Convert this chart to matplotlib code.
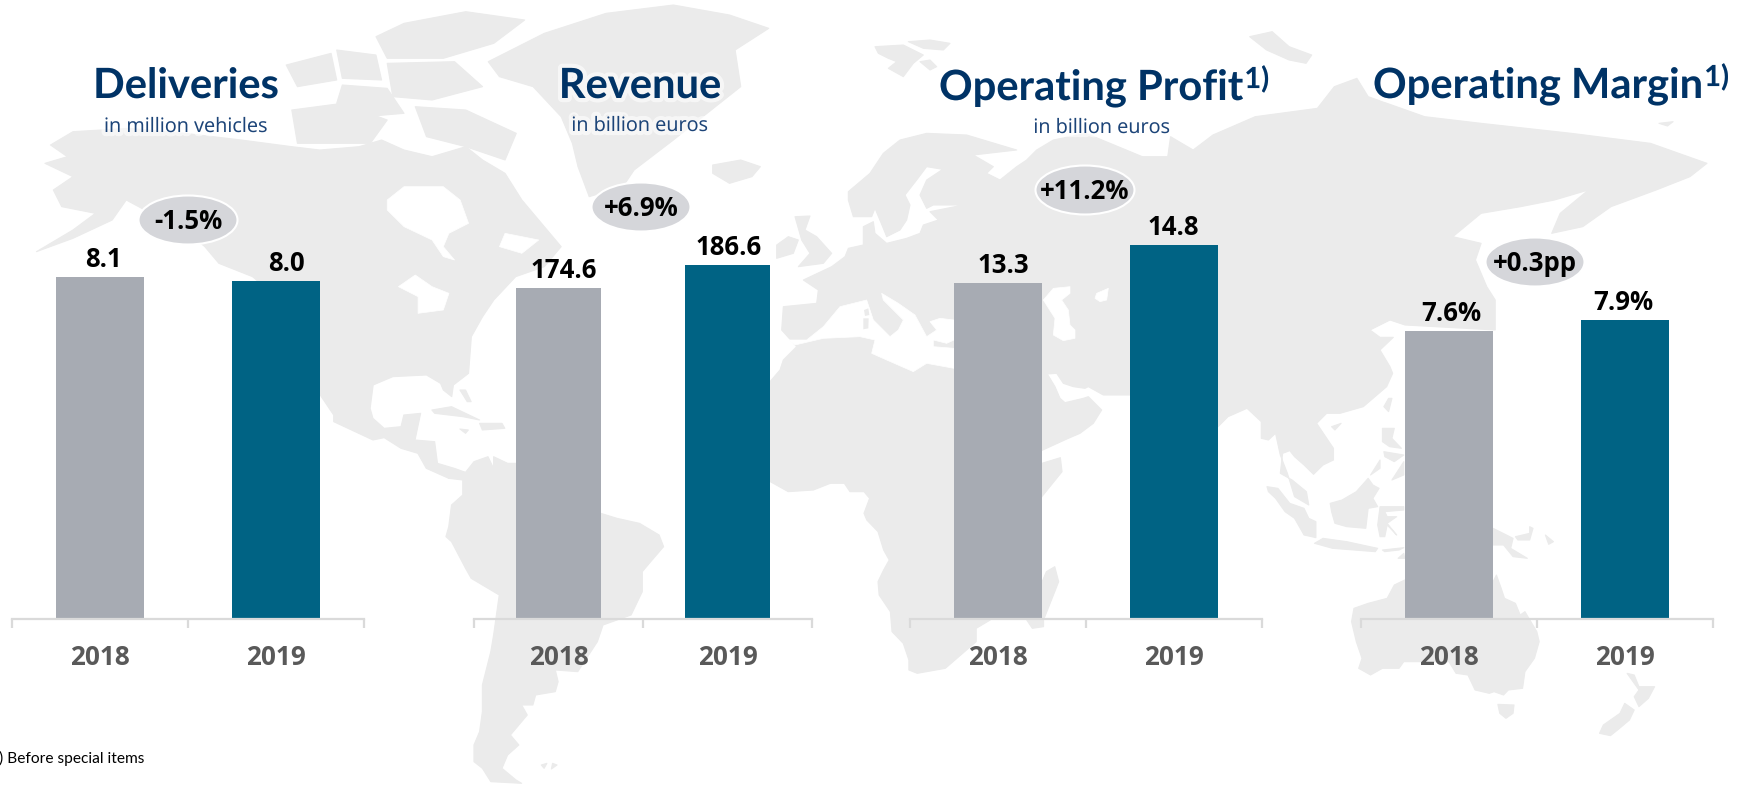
import matplotlib
matplotlib.use('Agg')
import matplotlib.pyplot as plt
import matplotlib.patheffects as pe
from matplotlib.patches import Ellipse, Polygon

##Chart data
years = ['2018', '2019']
titles = ['Deliveries', 'Revenue', 'Operating Profit', 'Operating Margin']
subtitles = ['in million vehicles', 'in billion euros', 'in billion euros', '']
title_notes = ['', '', '1)', '1)']
deliveries = [8.1, 8.0]
revenue = [174.6, 186.6]
operating_profit = [13.3, 14.8]
operating_margin = [7.6, 7.9]
value_labels = [['8.1', '8.0'], ['174.6', '186.6'], ['13.3', '14.8'], ['7.6%', '7.9%']]
changes = ['-1.5%', '+6.9%', '+11.2%', '+0.3pp']
footnote = '1) Before special items'

##Layout, in pixels of the 1745x785 figure
W, H = 1745, 785
BASE = 619
AX_H = 519
panel_x = [(12, 364), (474, 812), (910, 1262), (1361, 1713)]
px_per_unit = [42.2, 1.896, 25.26, 37.9]
label_dx = [(3, 10), (5, 1), (5, -1), (2, -2)]
balloons = [(188, 220), (641, 207), (1085, 190), (1535, 262)]
title_x = [186, 640, 939, 1373]
title_y = [98, 98, 100, 98]
title_ha = ['center', 'center', 'left', 'left']
sub_x = [186, 640, 1102, 0]
sub_y = [132, 131, 133, 0]

LAND = '#ebebeb'
NAVY = '#003366'


##Zoom crops used to trace the map outline, back to figure pixels
def z4(pts):
    return [(x/1.782, y/3) for x, y in pts]
def z5(pts):
    return [(300 + x/1.782, 385 + y/3) for x, y in pts]
def z6(pts):
    return [(860 + x/1.771, y/3) for x, y in pts]
def z7(pts):
    return [(1000 + x/2.105, 385 + y/3) for x, y in pts]
def z8(pts):
    return [(760 + x/3, 30 + y/3) for x, y in pts]
def z9(pts):
    return [(760 + x/3, 130 + y/3) for x, y in pts]
def z10(pts):
    return [(1040 + x/3, 250 + y/3) for x, y in pts]


north_america = z4([(90,435),(130,395),(230,385),(330,400),(430,420),(520,440),(570,450),(640,440),(680,420),(720,450),(770,470),(830,440),(860,480),(900,520),(930,600),(950,640),(985,710),(1000,740),(970,800),(919,830),(880,900),(860,950),(840,1010),(835,1120),(808,1155),(805,1190),(790,1170),(785,1150),(760,1125),(700,1130),(665,1155)]) \
    + z5([(125,70),(130,100),(150,130),(180,125),(185,90),(215,85),(205,165),(240,170),(245,235),(275,250),(295,262),(265,280),(225,250),(210,205),(180,190),(150,158),(130,165),(60,110),(60,90),(36,30)]) \
    + z4([(570,1000),(450,830),(390,790),(365,740),(330,690),(280,650),(225,600),(200,660),(130,715),(65,755),(130,690),(170,640),(110,620),(95,570),(130,530),(80,490),(120,470)])

south_america = z5([(265,280),(295,262),(310,230),(335,215),(345,250),(345,215),(370,235),(385,235),(536,385),(565,400),(605,415),(640,450),(648,485),(625,530),(610,560),(610,620),(590,690),(540,720),(530,770),(495,860),(455,855),(460,890),(455,920),(420,930),(415,960),(395,960),(405,990),(385,1030),(375,1050),(390,1080),(370,1110),(360,1150),(385,1185),(395,1195),(340,1190),(325,1150),(310,1130),(310,1080),(320,1040),(325,980),(325,930),(325,900),(340,800),(345,750),(355,630),(305,580),(295,550),(270,470),(260,455),(265,425),(270,360),(290,330),(290,285)])

eurasia_africa = z9([(65,600),(70,530),(170,520),(175,480),(130,450),(215,410),(255,380),(265,355),(310,345),(310,290),(340,275),(345,310),(380,340),(440,325),(480,310),(490,285),(535,270),(510,245),(610,225),(520,225),(500,235),(480,195),(500,150),(548,118),(500,110),(470,150),(435,195),(450,225),(440,270),(420,300),(380,320),(370,295),(345,235),(335,260),(280,260),(265,210),(265,185),(330,130),(370,70),(420,30),(500,10),(620,15),(770,60),(640,75),(700,110),(680,130),(720,150),(770,110),(800,90),(830,60),(880,30)]) \
    + z6([(400,400),(500,470),(545,470),(550,410),(590,450),(625,405),(700,350),(810,325),(840,260),(880,235),(900,290),(1000,350),(1100,370),(1260,400),(1400,430),(1500,490),(1470,530),(1410,570),(1330,620),(1280,680),(1225,700),(1240,640),(1290,570),(1230,600),(1170,620),(1100,640),(1050,710),(1100,730),(1090,780),(1110,860),(1125,900),(1125,990)]) \
    + z10([(1095,225),(1050,210),(990,240),(1020,262),(1060,262),(1020,300),(1050,350),(1058,370),(1040,410),(970,470),(900,490),(860,490),(830,520)]) \
    + z7([(702,190),(702,225),(680,240),(660,268),(640,240),(620,215),(610,197),(595,205),(590,265),(615,285),(645,320),(650,360),(620,335),(605,265),(590,210),(580,145),(565,165),(550,160),(550,110),(520,70),(480,95),(459,125),(274,30)]) \
    + z10([(190,435),(145,410),(135,415),(100,410),(70,400),(50,370),(22,372),(45,410),(60,445),(75,458),(130,445),(145,440),(185,480),(160,520),(120,550),(85,565)]) \
    + z7([(90,195),(60,215)]) \
    + z5([(1322,235),(1355,218),(1358,260),(1322,335),(1230,705),(1205,730),(1205,770),(1150,850),(1100,865),(1085,855),(1085,825),(1075,775),(1055,740),(1052,680),(1032,630),(1030,590),(1040,555),(1050,525),(1040,495),(1030,440),(1010,405),(1005,385),(1015,340),(1005,320),(980,320),(970,295),(945,295),(915,315),(870,320),(838,290)]) \
    + z9([(30,755),(60,720),(70,690),(110,650)])

australia = z7([(745,670),(775,655),(815,640),(830,600),(852,585),(1038,590),(1045,570),(1055,610),(1062,640),(1085,655),(1095,690),(1105,680),(1130,740),(1135,770),(1125,820),(1105,860),(1100,910),(1070,915),(1060,930),(1040,920),(1030,925),(1000,915),(985,870),(960,865),(945,830),(850,830),(840,850),(805,850),(780,870),(755,850),(762,820),(750,770),(740,710)])

islands = [
    ##Greenland, Iceland, Britain, Ireland
    z4([(870,185),(970,100),(1080,40),(1200,15),(1300,45),(1370,85),(1310,150),(1320,260),(1260,340),(1200,420),(1130,510),(1110,560),(1050,590),(1030,500),(1020,430),(1000,350),(950,260),(890,230)]),
    z4([(1270,495),(1320,480),(1355,500),(1340,530),(1300,550),(1270,520)]),
    z9([(105,260),(150,258),(135,300),(170,320),(215,370),(190,400),(115,410),(150,370),(125,330)]),
    z9([(50,345),(85,320),(115,330),(100,370),(50,385)]),
    ##Canadian arctic
    z4([(670,110),(720,70),(830,35),(935,60),(880,130),(790,175),(690,175)]),
    z4([(510,195),(590,160),(600,240),(530,260)]),
    z4([(600,150),(670,165),(680,240),(610,235)]),
    z4([(690,190),(810,185),(860,260),(770,300),(700,290)]),
    z4([(610,255),(690,265),(720,340),(650,350),(600,310)]),
    z4([(520,330),(610,310),(690,360),(660,430),(530,430)]),
    z4([(740,320),(830,330),(920,400),(900,480),(830,440),(760,410)]),
    ##Svalbard, Novaya Zemlya
    z8([(345,50),(430,45),(490,75),(460,100),(430,140),(385,115),(410,95),(385,85),(355,70)]),
    z8([(445,35),(510,30),(570,40),(550,60),(490,55)]),
    z8([(480,95),(510,90),(530,110),(510,120)]),
    z6([(690,110),(730,95),(760,140),(800,165),(790,190),(760,180),(720,150)]),
    z6([(1415,370),(1440,365),(1430,378)]),
    ##Caribbean and Falklands
    z5([(235,75),(270,65),(320,105),(290,95),(240,85)]),
    z5([(320,115),(360,115),(365,130),(325,135)]),
    z5([(285,132),(300,135),(295,145)]),
    z5([(285,15),(295,15),(305,50),(298,50)]),
    z5([(430,1140),(440,1135),(435,1150)]),
    z5([(450,1135),(458,1140),(448,1152)]),
    ##Madagascar
    z5([(1345,545),(1352,590),(1345,620),(1325,705),(1325,725),(1305,730),(1295,705),(1320,600),(1330,560)]),
    ##Southeast Asia
    z7([(562,305),(585,310),(610,355),(640,370),(650,400),(665,410),(665,458),(640,450),(620,400),(600,380),(580,340),(565,320)]),
    z7([(695,355),(720,345),(750,320),(775,280),(785,300),(798,310),(785,340),(795,365),(775,370),(770,430),(730,425),(705,415),(698,380)]),
    z7([(662,475),(680,460),(730,470),(795,490),(790,500),(700,490)]),
    z7([(800,365),(850,365),(850,375),(810,380),(815,395),(835,395),(815,415),(835,450),(815,420),(810,455),(800,455),(795,420)]),
    z7([(805,130),(830,130),(825,160),(845,190),(820,185),(805,170)]),
    z7([(808,200),(850,210),(830,230),(810,215)]),
    z7([(800,225),(780,270),(800,250)]),
    z7([(850,230),(825,285),(850,270)]),
    z7([(805,495),(850,488),(840,495),(810,500)]),
    z7([(838,520),(850,505),(852,520)]),
    z7([(698,125),(718,115),(705,135)]),
    z7([(818,40),(825,40),(818,80),(808,65)]),
    z7([(1038,430),(1080,460),(1075,490),(1110,520),(1080,515),(1060,480),(1038,480)]),
    z7([(1085,455),(1115,445),(1115,425),(1122,430),(1115,465),(1090,465)]),
    z7([(1148,450),(1165,470),(1155,478)]),
    ##Tasmania, New Zealand
    z7([(1048,958),(1082,960),(1080,985),(1065,1000),(1052,985)]),
    z7([(1320,865),(1335,870),(1345,905),(1378,905),(1365,940),(1345,965),(1335,935),(1345,915)]),
    z7([(1315,955),(1335,975),(1325,1005),(1300,1035),(1285,1052),(1262,1045),(1270,1020),(1305,985)]),
]

waters = [
    ##Hudson Bay and Great Lakes
    z4([(690,600),(720,560),(790,560),(820,600),(835,670),(800,700),(790,740),(810,780),(790,770),(770,720),(720,680),(690,630)]),
    z4([(710,860),(740,825),(770,860),(800,880),(790,930),(745,940),(745,890)]),
    z4([(900,700),(960,720),(930,760),(890,740)]),
    ##Mediterranean, Caspian, Aral
    z9([(85,630),(105,645),(190,625),(300,620),(345,630),(335,670),(380,690),(460,725),(500,700),(582,715),(582,655),(520,650),(520,630),(560,640),(582,630),(582,570),(540,565),(510,575),(530,600),(500,620),(465,555),(415,520),(365,490),(370,510),(430,570),(415,600),(390,620),(340,570),(320,510),(240,530),(190,590),(140,630)]),
    z10([(10,150),(40,115),(90,110),(90,130),(65,150),(85,180),(90,225),(105,240),(105,265),(70,272),(40,255),(45,205)]),
    z10([(170,130),(205,115),(200,150),(180,155),(165,145)]),
]
med_islands = [
    z9([(312,540),(325,535),(328,555),(315,558)]),
    z9([(310,565),(326,565),(325,595),(310,598)]),
]

fig = plt.figure(figsize=(W/100, H/100), dpi=100)
plt.rcParams['font.family'] = ['Open Sans', 'DejaVu Sans']

##Background map
ax_map = fig.add_axes([0, 0, 1, 1], zorder=0)
ax_map.set_xlim(0, W)
ax_map.set_ylim(H, 0)
ax_map.axis('off')
for shape in [north_america, south_america, eurasia_africa, australia] + islands:
    ax_map.add_patch(Polygon(shape, closed=True, fc=LAND, ec=LAND, lw=0.8, joinstyle='round'))
for shape in waters:
    ax_map.add_patch(Polygon(shape, closed=True, fc='white', ec='white', lw=0.5, joinstyle='round'))
for shape in med_islands:
    ax_map.add_patch(Polygon(shape, closed=True, fc=LAND, ec='none'))

##The four bar panels
series = [deliveries, revenue, operating_profit, operating_margin]
for i, values in enumerate(series):
    x0, x1 = panel_x[i]
    ax = fig.add_axes([x0/W, 1 - BASE/H, (x1 - x0)/W, AX_H/H], zorder=1)
    ax.patch.set_alpha(0)
    ax.bar([0, 1], values, width=0.5, color=['#a7abb3', '#006384'])
    ax.set_xlim(-0.5, 1.5)
    ax.set_ylim(0, AX_H/px_per_unit[i])
    for s in ['top', 'left', 'right']:
        ax.spines[s].set_visible(False)
    ax.spines['bottom'].set_color('#dadada')
    ax.spines['bottom'].set_linewidth(1.6)
    ax.set_yticks([])
    ax.set_xticks([-0.5, 0.5, 1.5], labels=['', '', ''])
    ax.tick_params(axis='x', which='major', color='#dadada', width=1.6, length=6.5)
    ax.set_xticks([0, 1], labels=years, minor=True)
    ax.tick_params(axis='x', which='minor', length=0, pad=18, labelsize=18.8, labelcolor='#595959')
    for lab in ax.get_xticklabels(minor=True):
        lab.set_fontweight('bold')
    for k, v in enumerate(values):
        ax.annotate(value_labels[i][k], (k, v), xytext=(label_dx[i][k]*0.72, 7.2),
                    textcoords='offset points', ha='center', va='baseline',
                    fontsize=18.5, fontweight='bold', color='black')

##Titles, balloons and footnote on a pixel overlay
ax_top = fig.add_axes([0, 0, 1, 1], zorder=2)
ax_top.set_xlim(0, W)
ax_top.set_ylim(H, 0)
ax_top.axis('off')
glow = [pe.withStroke(linewidth=6, foreground='white', alpha=0.6)]
for i, name in enumerate(titles):
    t = ax_top.text(title_x[i], title_y[i], name, ha=title_ha[i], va='baseline', fontsize=30,
                    fontweight='bold', family=['Lato', 'DejaVu Sans'], color=NAVY, path_effects=glow)
    if title_notes[i]:
        ax_top.annotate(title_notes[i], xy=(1, 0), xycoords=t, xytext=(1, 14),
                        textcoords='offset points', fontsize=21, color=NAVY,
                        fontweight='bold', family=['Lato', 'DejaVu Sans'],
                        va='baseline', path_effects=glow)
    if subtitles[i]:
        ax_top.text(sub_x[i], sub_y[i], subtitles[i], ha='center', va='baseline', fontsize=14.3,
                    color='#1c4478', path_effects=glow)
for (cx, cy), text in zip(balloons, changes):
    ax_top.add_patch(Ellipse((cx, cy), 99, 49, fc='#d5d6da', ec='white', lw=1.5))
    ax_top.text(cx, cy + 9, text, ha='center', va='baseline', fontsize=18.5,
                fontweight='bold', color='black')
ax_top.text(-10, 763, footnote, ha='left', va='baseline', fontsize=11.2,
            family=['Lato', 'DejaVu Sans'], color='black')

fig.savefig('out.png', dpi=100, facecolor='white')
